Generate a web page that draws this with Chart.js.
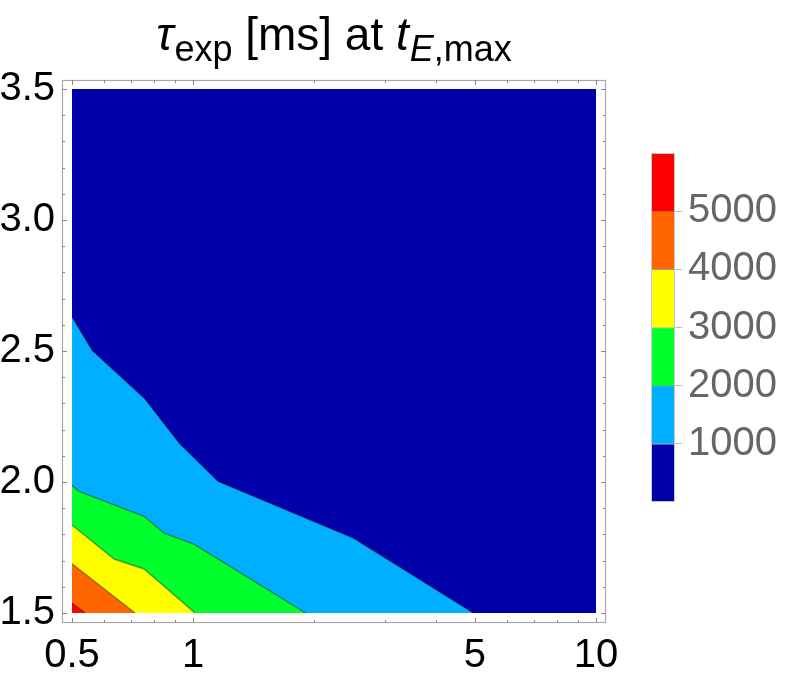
<!DOCTYPE html>
<html><head><meta charset="utf-8">
<script src="https://cdn.jsdelivr.net/npm/chart.js@4/dist/chart.umd.min.js"></script>
<style>
html,body{margin:0;padding:0;background:#fff;width:789px;height:677px;overflow:hidden}
#main{position:absolute;left:0;top:0}
#cb{position:absolute;left:640px;top:140px}
#title{position:absolute;left:62px;width:544px;top:11px;text-align:center;font-family:"Liberation Sans",Arial,sans-serif;font-size:46px;line-height:46px;color:#000;white-space:nowrap}
#title .sub{font-size:36px;position:relative;top:11px;margin-left:1px}
#title i{font-style:italic}
</style></head>
<body>
<canvas id="main" width="789" height="677"></canvas>
<canvas id="cb" width="149" height="380"></canvas>
<div id="title"><i>τ</i><span class="sub">exp</span> [ms] at <i>t</i><span class="sub"><i>E</i>,max</span></div>
<script>
// ---- data ----
const xMajorTicks = [0.5, 1, 5, 10];
const xMinorTicks = [0.6, 0.7, 0.8, 0.9, 2, 3, 4, 6, 7, 8, 9];
const yMajorTicks = [1.5, 2.0, 2.5, 3.0, 3.5];
const yMinorTicks = [1.6, 1.7, 1.8, 1.9, 2.1, 2.2, 2.3, 2.4, 2.6, 2.7, 2.8, 2.9, 3.1, 3.2, 3.3, 3.4];

const domainX = [0.5, 10];
const domainY = [1.5, 3.5];

// contour lines (boundary between bands), x = parameter on log axis, y = value
const contour1000X = [0.5, 0.5615, 0.755, 0.927, 1.154, 2.497, 4.96];
const contour1000Y = [2.630, 2.502, 2.321, 2.145, 2.002, 1.786, 1.5];
const contour2000X = [0.5, 0.521, 0.755, 0.846, 1.004, 1.902];
const contour2000Y = [1.987, 1.964, 1.869, 1.805, 1.763, 1.5];
const contour3000X = [0.5, 0.636, 0.755, 1.010];
const contour3000Y = [1.836, 1.706, 1.668, 1.5];
const contour4000X = [0.5, 0.717];
const contour4000Y = [1.688, 1.5];
const contour5000X = [0.5, 0.539];
const contour5000Y = [1.538, 1.5];

const levels = [1000, 2000, 3000, 4000, 5000];
const bandEdges = [0, 1000, 2000, 3000, 4000, 5000, 6000];
const bandColors = ['#0000aa', '#00afff', '#00ff2c', '#ffff00', '#ff6600', '#ff0000'];

// ---- main contour chart ----
const zip = (xs, ys) => xs.map((x, i) => ({x: x, y: ys[i]}));
const contours = [
  zip(contour1000X, contour1000Y),
  zip(contour2000X, contour2000Y),
  zip(contour3000X, contour3000Y),
  zip(contour4000X, contour4000Y),
  zip(contour5000X, contour5000Y)
];

const datasets = [{
  data: [{x: domainX[0], y: domainY[1]}, {x: domainX[1], y: domainY[1]}],
  showLine: true, fill: {value: domainY[0]}, backgroundColor: bandColors[0],
  borderWidth: 0, pointRadius: 0, order: 10
}];
contours.forEach((pts, i) => {
  datasets.push({
    data: pts, showLine: true, fill: {value: domainY[0]},
    backgroundColor: bandColors[i + 1], borderColor: 'rgba(0,0,0,0.38)',
    borderWidth: 1.4, pointRadius: 0, tension: 0, order: 9 - i
  });
});

const FONT = {family: '"Liberation Sans", Arial, sans-serif', size: 40};

const framePlugin = {
  id: 'frame',
  afterDraw(chart) {
    const {ctx, chartArea: a, scales: {x, y}} = chart;
    ctx.save();
    ctx.strokeStyle = '#a9a9a9';
    ctx.lineWidth = 1.2;
    ctx.strokeRect(a.left + 0.5, a.top + 0.5, a.right - a.left - 1, a.bottom - a.top - 1);
    ctx.strokeStyle = '#8a8a8a';
    ctx.lineWidth = 1;
    const xt = (v, len) => {
      const p = Math.round(x.getPixelForValue(v)) + 0.5;
      ctx.beginPath();
      ctx.moveTo(p, a.bottom); ctx.lineTo(p, a.bottom - len);
      ctx.moveTo(p, a.top); ctx.lineTo(p, a.top + len);
      ctx.stroke();
    };
    const yt = (v, len) => {
      const p = Math.round(y.getPixelForValue(v)) + 0.5;
      ctx.beginPath();
      ctx.moveTo(a.left, p); ctx.lineTo(a.left + len, p);
      ctx.moveTo(a.right, p); ctx.lineTo(a.right - len, p);
      ctx.stroke();
    };
    xMajorTicks.forEach(v => xt(v, 5));
    xMinorTicks.forEach(v => xt(v, 3));
    yMajorTicks.forEach(v => yt(v, 5));
    yMinorTicks.forEach(v => yt(v, 3));
    ctx.restore();
  }
};

// 10 px padding beyond data domain on each side (log x, linear y)
const xPad = Math.pow(domainX[1] / domainX[0], 10 / 524);
new Chart(document.getElementById('main'), {
  type: 'scatter',
  data: {datasets: datasets},
  options: {
    responsive: false, animation: false,
    layout: {padding: {top: 80, left: 0, right: 183, bottom: 0}},
    plugins: {legend: {display: false}, tooltip: {enabled: false}, title: {display: false}},
    scales: {
      x: {
        type: 'logarithmic',
        min: domainX[0] / xPad, max: domainX[1] * xPad,
        afterBuildTicks: s => { s.ticks = xMajorTicks.map(v => ({value: v})); },
        afterFit: s => { s.height = 54; },
        grid: {display: false, drawTicks: false},
        border: {display: false},
        ticks: {font: FONT, color: '#000', padding: 9, maxRotation: 0, autoSkip: false,
                callback: v => String(v)}
      },
      y: {
        type: 'linear',
        min: domainY[0] - 10 / 262, max: domainY[1] + 9 / 262,
        afterBuildTicks: s => { s.ticks = yMajorTicks.map(v => ({value: v})); },
        afterFit: s => { s.width = 62; },
        grid: {display: false, drawTicks: false},
        border: {display: false},
        ticks: {font: FONT, color: '#000', padding: 7, autoSkip: false,
                callback: v => Number(v).toFixed(1)}
      }
    }
  },
  plugins: [framePlugin]
});

// ---- colour bar ----
const cbFrame = {
  id: 'cbFrame',
  afterDatasetsDraw(chart) {
    const {ctx, chartArea: a} = chart;
    ctx.save();
    ctx.strokeStyle = '#c8c8c8';
    ctx.lineWidth = 1;
    ctx.strokeRect(a.left + 0.5, a.top + 0.5, a.right - a.left - 1, a.bottom - a.top - 1);
    ctx.restore();
  }
};
new Chart(document.getElementById('cb'), {
  type: 'bar',
  data: {
    labels: [''],
    datasets: bandColors.map((c, i) => ({
      data: [[bandEdges[i], bandEdges[i + 1]]],
      backgroundColor: c,
      borderColor: 'rgba(0,0,0,0.3)',
      borderWidth: i < bandColors.length - 1 ? {top: 1, bottom: 0, left: 0, right: 0} : 0,
      borderSkipped: false,
      barPercentage: 1, categoryPercentage: 1, grouped: false
    }))
  },
  options: {
    responsive: false, animation: false,
    layout: {padding: {left: 11, top: 13, bottom: 18, right: 0}},
    plugins: {legend: {display: false}, tooltip: {enabled: false}},
    scales: {
      x: {display: false},
      y: {
        position: 'right', min: bandEdges[0], max: bandEdges[bandEdges.length - 1],
        afterBuildTicks: s => { s.ticks = levels.map(v => ({value: v})); },
        afterFit: s => { s.width = 114; s.paddingTop = 0; s.paddingBottom = 0; },
        grid: {drawOnChartArea: false, drawTicks: true, tickLength: 7, color: '#bdbdbd'},
        border: {display: false},
        ticks: {font: FONT, color: '#666', padding: 6, callback: v => String(v)}
      }
    }
  },
  plugins: [cbFrame]
});
</script>
</body></html>
